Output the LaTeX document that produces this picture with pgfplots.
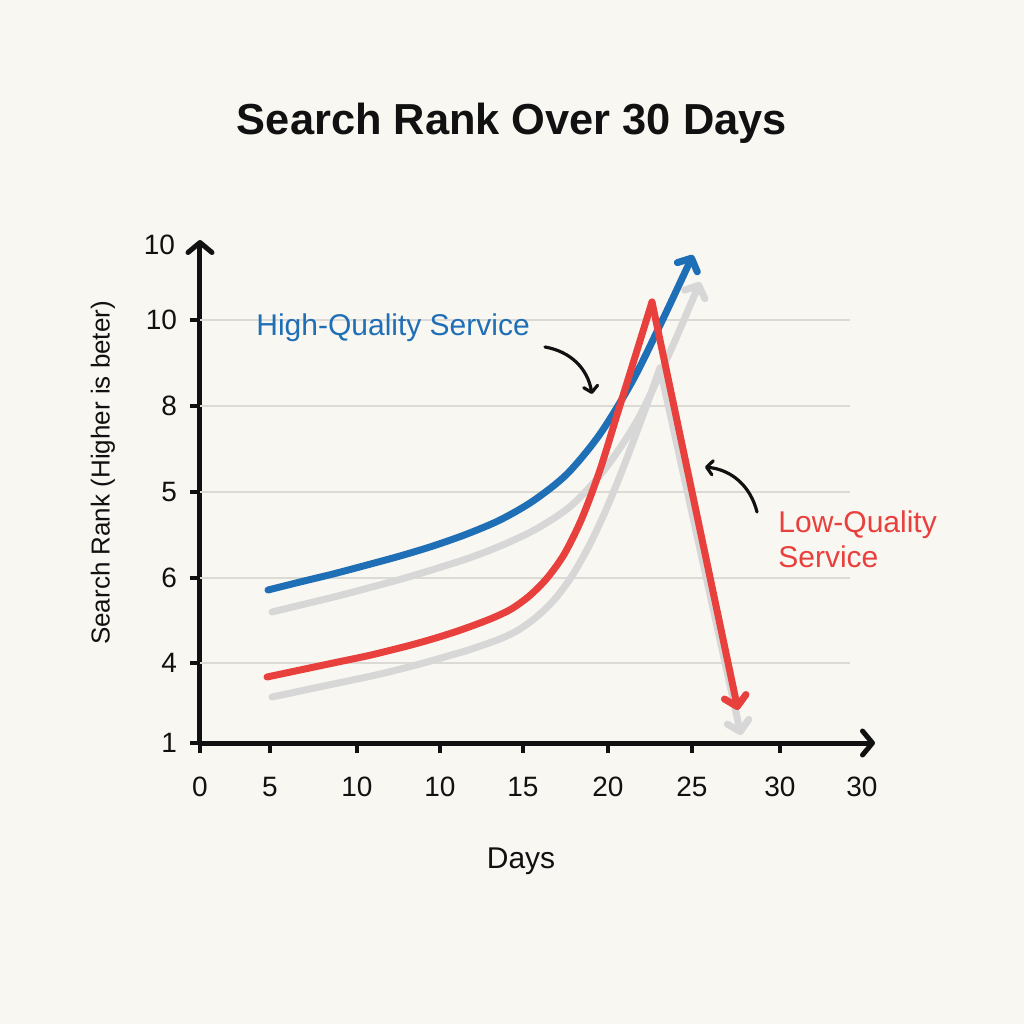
\documentclass[border=0pt]{standalone}
\usepackage{pgfplots}
\pgfplotsset{compat=1.18}
\usepackage{fontspec}
\setmainfont{Liberation Sans}
\usetikzlibrary{arrows.meta}
\definecolor{bg}{HTML}{F9F7F2}
\definecolor{hq}{HTML}{1F6FB7}
\definecolor{lq}{HTML}{E8403D}
\definecolor{ghost}{HTML}{D7D7D7}
\definecolor{gridc}{HTML}{DCDAD5}
\definecolor{ink}{HTML}{111111}
\pagecolor{bg}
\begin{document}
\begin{tikzpicture}
\begin{axis}[
  x=0.5pt, y=0.5pt,
  xmin=200, xmax=875, ymin=281, ymax=784,
  clip=false,
  axis x line=bottom, axis y line=left,
  axis line style={line width=2.5pt, ink},
  x axis line style={-{Straight Barb[length=5pt,width=12pt,line cap=round,line join=round]}},
  y axis line style={-{Straight Barb[length=5pt,width=12pt,line cap=round,line join=round]}},
  tick align=outside,
  major tick length=5pt,
  tick style={line width=2pt, ink},
  xtick={200,270,357,440,523,608,692,780},
  xticklabels={0,5,10,10,15,20,25,30},
  extra x ticks={862},
  extra x tick labels={30},
  extra x tick style={major tick length=0pt, xticklabel style={yshift=-5pt}},
  ytick={281,361,446,532,618,704},
  yticklabels={1,4,6,5,8,10},
  extra y ticks={779},
  extra y tick labels={10},
  extra y tick style={major tick length=0pt, yticklabel style={xshift=-6pt}},
  ticklabel style={font=\fontsize{14}{14}\selectfont, text=ink},
  yticklabel style={xshift=-3pt},
  xticklabel style={yshift=-8.5pt},
  title={Search Rank Over 30 Days},
  title style={at={(rel axis cs:0.4622,1.185)}, anchor=base, font=\bfseries\fontsize{21.7}{22}\selectfont, text=ink},
  xlabel={Days},
  xlabel style={at={(rel axis cs:0.4756,-0.2485)}, anchor=base, font=\fontsize{15}{15}\selectfont, text=ink},
  ylabel={Search Rank (Higher is beter)},
  ylabel style={at={(rel axis cs:-0.1437,0.537)}, anchor=center, font=\fontsize{13}{13}\selectfont, text=ink},
]
\coordinate (BL) at (axis cs:0,0);
\coordinate (TR) at (axis cs:1024,1024);
% grid lines
\foreach \yy in {361,446,532,618,704}{
  \edef\tmp{\noexpand\draw[gridc, line width=1.1pt] (axis cs:200,\yy) -- (axis cs:850,\yy);}\tmp
}
% ghost series
\addplot[ghost, line width=3.5pt, smooth, line cap=round, -{Straight Barb[length=5pt,width=11pt,line cap=round,line join=round]}] coordinates {
(272,412) (305,420) (338,428) (372,437) (405,446) (438,456) (472,467) (505,480) (538,496) (572,519) (605,555) (638,605) (670,672) (700,742)};
\addplot[ghost, line width=3.5pt, smooth, line cap=round] coordinates {
(272,327) (289.6,330.7) (307.3,334.5) (324.9,338.2) (342.5,341.9) (360.2,345.6) (377.8,349.4) (395.5,353.7) (413.1,358.2) (430.7,363.0) (448.4,368.1) (466,373.2) (483.6,379.1) (501.3,385.6) (518.9,394.3) (536.5,407.1) (554.2,424.2) (571.8,447.8) (589.5,479.0) (607.1,516.7) (624.7,560.2) (642.4,607.1) (660,656)};
\addplot[ghost, line width=3.5pt, line cap=round, -{Straight Barb[length=5pt,width=11pt,line cap=round,line join=round]}] coordinates {
(660,656) (741,289)};
% high quality
\addplot[hq, line width=3.5pt, smooth, line cap=round, -{Straight Barb[length=5pt,width=11pt,line cap=round,line join=round]}] coordinates {
(268,434) (300,442) (333,450) (367,459) (400,468) (433,478) (467,490) (500,504) (533,523) (567,550) (600,590) (633,644) (663,705) (693,769)};
% low quality
\addplot[lq, line width=3.5pt, smooth, line cap=round] coordinates {
(267,347) (284.5,350.7) (302,354.4) (319.5,358.1) (337,361.8) (354.5,365.4) (372,369.2) (389.5,373.5) (407,377.9) (424.5,382.7) (442,387.9) (459.5,393.6) (477,399.9) (494.5,406.8) (512,415.4) (529.5,428.2) (547,445.8) (564.5,470.3) (582,505.9) (599.5,552.6) (617,609) (634.5,665.4) (652,722)};
\addplot[lq, line width=3.5pt, line cap=round, -{Straight Barb[length=5pt,width=11pt,line cap=round,line join=round]}] coordinates {
(652,722) (738,314)};
% annotations
\node[anchor=base west, text=hq, font=\fontsize{15}{15}\selectfont, inner sep=0pt] at (axis cs:256,689) {High-Quality Service};
\node[anchor=base west, text=lq, font=\fontsize{15}{15}\selectfont, inner sep=0pt, align=left] at (axis cs:778,492) {Low-Quality};
\node[anchor=base west, text=lq, font=\fontsize{15}{15}\selectfont, inner sep=0pt, align=left] at (axis cs:778,457) {Service};
\draw[ink, line width=1.6pt, line cap=round, -{Straight Barb[length=3pt,width=7pt,line cap=round,line join=round]}] (axis cs:545,677) to[bend left=35] (axis cs:592,630);
\draw[ink, line width=1.6pt, line cap=round, -{Straight Barb[length=3pt,width=7pt,line cap=round,line join=round]}] (axis cs:757,512) to[bend right=35] (axis cs:705,557);
\end{axis}
\pgfresetboundingbox
\path (BL) rectangle (TR);
\end{tikzpicture}
\end{document}
